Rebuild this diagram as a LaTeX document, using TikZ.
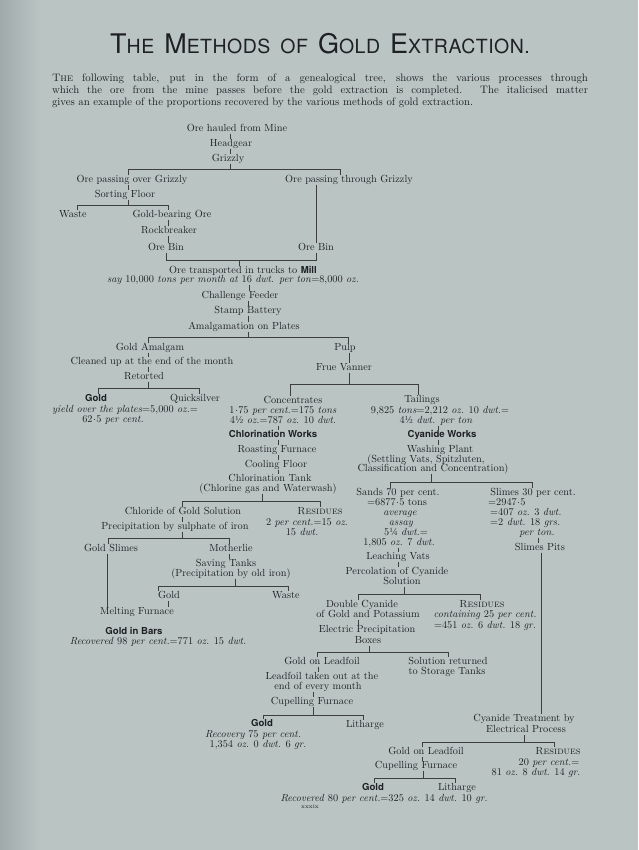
\documentclass[tikz,border=0pt]{standalone}
\usepackage{fontspec}
\setsansfont{TeX Gyre Heros}
\newfontfamily\titlefont[LetterSpace=2.5]{TeX Gyre Heros}
\definecolor{paper}{RGB}{186,196,195}
\definecolor{paperdark}{RGB}{160,170,170}
\definecolor{ink}{RGB}{30,32,36}
\definecolor{rule}{RGB}{60,62,64}
\newcommand\tcap[2]{{\fontsize{27}{27}\selectfont #1}{\fontsize{19.5}{19.5}\selectfont #2}}
\newcommand\cd{\kern0.4pt\raisebox{0.22em}{.}\kern0.4pt}
\begin{document}
\begin{tikzpicture}[x=1pt,y=-1pt,
 tx/.style={inner sep=0pt, text=ink, font=\fontsize{10.3}{10}\selectfont, text height=7pt, text depth=2pt},
 bsf/.style={tx, font=\sffamily\bfseries\fontsize{9.6}{10}\selectfont},
 ln/.style={draw=rule, line width=0.55pt}]
% page
\fill[paper] (0,0) rectangle (638,850);
\shade[left color=paperdark, right color=paper] (0,0) rectangle (40,850);
\useasboundingbox (0,0) rectangle (638,850);
% heading
\node[inner sep=0pt, text=ink, font=\titlefont] (title) at (320,44)
 {\tcap{T}{HE}\hspace{10pt}\tcap{M}{ETHODS}\hspace{10pt}{\fontsize{19.5}{19.5}\selectfont OF}\hspace{10pt}\tcap{G}{OLD}\hspace{10pt}\tcap{E}{XTRACTION.}};
\node[inner sep=0pt, text=ink, text width=536pt, align=justify, font=\fontsize{10.8}{12}\selectfont] (intro) at (320,91)
 {\textsc{The} following table, put in the form of a genealogical tree, shows the various processes through\linebreak
 which the ore from the mine passes before the gold extraction is completed. The italicised matter\linebreak
 gives an example of the proportions recovered by the various methods of gold extraction.};
% ---------------- nodes
\node[tx] (n1) at (237,129) {Ore hauled from Mine};
\node[tx] (n2) at (231,144) {Headgear};
\node[tx] (n3) at (228,159) {Grizzly};
\node[tx] (n4) at (132,180) {Ore passing over Grizzly};
\node[tx] (n5) at (349,180) {Ore passing through Grizzly};
\node[tx] (n6) at (125,195) {Sorting Floor};
\node[tx] (n7) at (73,215) {Waste};
\node[tx] (n8) at (172,215) {Gold-bearing Ore};
\node[tx] (n9) at (169,231) {Rockbreaker};
\node[tx] (n10) at (166,248) {Ore Bin};
\node[tx] (n11) at (316,248) {Ore Bin};
\node[tx] (n12) at (243,271) {Ore transported in trucks to {\sffamily\bfseries\fontsize{9.6}{10}\selectfont Mill}};
\node[tx] (n13) at (233,280) {\textit{say} 10,000 \textit{tons per month at} 16 \textit{dwt. per ton}=8,000 \textit{oz.}};
\node[tx] (n14) at (240,296) {Challenge Feeder};
\node[tx] (n15) at (248,311) {Stamp Battery};
\node[tx] (n16) at (244,327) {Amalgamation on Plates};
\node[tx] (n17) at (150,348) {Gold Amalgam};
\node[tx] (n18) at (345,348) {Pulp};
\node[tx] (n19) at (152,362) {Cleaned up at the end of the month};
\node[tx] (n20) at (144,377) {Retorted};
\node[bsf] (n21) at (96,399) {Gold};
\node[tx] (n22) at (195,399) {Quicksilver};
\node[tx] (n23) at (125,410) {\textit{yield over the plates}=5,000 \textit{oz.}=};
\node[tx] (n24) at (113,420) {62\cd5 \textit{per cent.}};
\node[tx] (n25) at (344,368) {Frue Vanner};
\node[tx] (n26) at (293,401) {Concentrates};
\node[tx] (n27) at (283,411) {1\cd75 \textit{per cent.}=175 \textit{tons}};
\node[tx] (n28) at (283,421) {4½ \textit{oz.}=787 \textit{oz.} 10 \textit{dwt.}};
\node[bsf] (n29) at (273,435) {Chlorination Works};
\node[tx] (n30) at (277,450) {Roasting Furnace};
\node[tx] (n31) at (276,465) {Cooling Floor};
\node[tx] (n32) at (270,479) {Chlorination Tank};
\node[tx] (n33) at (268,489) {(Chlorine gas and Waterwash)};
\node[tx] (n34) at (422,400) {Tailings};
\node[tx] (n35) at (440,411) {9,825 \textit{tons}=2,212 \textit{oz.} 10 \textit{dwt.}=};
\node[tx] (n36) at (436,421) {4½ \textit{dwt. per ton}};
\node[bsf] (n37) at (442,435) {Cyanide Works};
\node[tx] (n38) at (440,450) {Washing Plant};
\node[tx] (n39) at (426,460) {(Settling Vats, Spitzluten,};
\node[tx] (n40) at (433,469) {Classification and Concentration)};
\node[tx] (n41) at (183,512) {Chloride of Gold Solution};
\node[tx] (n42) at (320,512) {\textsc{Residues}};
\node[tx] (n43) at (307,523) {2 \textit{per cent.}=15 \textit{oz.}};
\node[tx] (n44) at (302,533) {15 \textit{dwt.}};
\node[tx] (n45) at (175,527) {Precipitation by sulphate of iron};
\node[tx] (n46) at (111,549) {Gold Slimes};
\node[tx] (n47) at (231,549) {Motherlie};
\node[tx] (n48) at (226,564) {Saving Tanks};
\node[tx] (n49) at (231,574) {(Precipitation by old iron)};
\node[tx] (n50) at (169,596) {Gold};
\node[tx] (n51) at (286,596) {Waste};
\node[tx] (n52) at (137,612) {Melting Furnace};
\node[bsf] (n53) at (134,632) {Gold in Bars};
\node[tx] (n54) at (158,642) {\textit{Recovered} 98 \textit{per cent.}=771 \textit{oz.} 15 \textit{dwt.}};
\node[tx] (n55) at (398,493) {Sands 70 per cent.};
\node[tx] (n56) at (397,503) {=6877\cd5 tons};
\node[tx] (n57) at (400,513) {\textit{average}};
\node[tx] (n58) at (401,523) {\textit{assay}};
\node[tx] (n59) at (406,533) {5¼ \textit{dwt.}=};
\node[tx] (n60) at (399,543) {1,805 \textit{oz.} 7 \textit{dwt.}};
\node[tx] (n61) at (398,557) {Leaching Vats};
\node[tx] (n62) at (397,572) {Percolation of Cyanide};
\node[tx] (n63) at (402,582) {Solution};
\node[tx] (n64) at (533,493) {Slimes 30 per cent.};
\node[tx, anchor=west] (n65) at (488,503) {=2947\cd5};
\node[tx, anchor=west] (n66) at (490,513) {=407 \textit{oz.} 3 \textit{dwt.}};
\node[tx, anchor=west] (n67) at (490,523) {=2 \textit{dwt.} 18 \textit{grs.}};
\node[tx] (n68) at (537,533) {\textit{per ton.}};
\node[tx] (n69) at (540,548) {Slimes Pits};
\node[tx] (n70) at (362,605) {Double Cyanide};
\node[tx] (n71) at (368,615) {of Gold and Potassium};
\node[tx] (n72) at (367,630) {Electric Precipitation};
\node[tx] (n73) at (368,641) {Boxes};
\node[tx] (n74) at (482,605) {\textsc{Residues}};
\node[tx] (n75) at (485,615) {\textit{containing} 25 \textit{per cent.}};
\node[tx] (n76) at (485,626) {=451 \textit{oz.} 6 \textit{dwt.} 18 \textit{gr.}};
\node[tx] (n77) at (322,662) {Gold on Leadfoil};
\node[tx] (n78) at (448,662) {Solution returned};
\node[tx] (n79) at (447,672) {to Storage Tanks};
\node[tx] (n80) at (322,677) {Leadfoil taken out at the};
\node[tx] (n81) at (318,687) {end of every month};
\node[tx] (n82) at (312,702) {Cupelling Furnace};
\node[bsf] (n83) at (262,724) {Gold};
\node[tx] (n84) at (253,735) {\textit{Recovery} 75 \textit{per cent.}};
\node[tx] (n85) at (258,745) {1,354 \textit{oz.} 0 \textit{dwt.} 6 \textit{gr.}};
\node[tx] (n86) at (365,725) {Litharge};
\node[tx] (n87) at (524,719) {Cyanide Treatment by};
\node[tx] (n88) at (526,730) {Electrical Process};
\node[tx] (n89) at (426,752) {Gold on Leadfoil};
\node[tx] (n90) at (558,752) {\textsc{Residues}};
\node[tx] (n91) at (549,763) {20 \textit{per cent.}=};
\node[tx] (n92) at (536,773) {81 \textit{oz.} 8 \textit{dwt.} 14 \textit{gr.}};
\node[tx] (n93) at (416,766) {Cupelling Furnace};
\node[bsf] (n94) at (373,788) {Gold};
\node[tx] (n95) at (457,788) {Litharge};
\node[tx] (n96) at (384,799) {\textit{Recovered} 80 \textit{per cent.}=325 \textit{oz.} 14 \textit{dwt.} 10 \textit{gr.}};
\node[inner sep=0pt, text=ink, font=\fontsize{6}{6}\selectfont] (pg) at (310,807) {xxxix};
% ---------------- bar coordinates
\coordinate (b1l) at (128,169); \coordinate (b1r) at (340,169); \coordinate (b1m) at (230,169);
\coordinate (b2l) at (77,205);  \coordinate (b2r) at (168,205); \coordinate (b2m) at (128,205);
\coordinate (b3l) at (166,260); \coordinate (b3r) at (316,260); \coordinate (b3m) at (239,260);
\coordinate (b4l) at (148,337); \coordinate (b4r) at (348,337); \coordinate (b4m) at (248,337);
\coordinate (b5l) at (98,388);  \coordinate (b5r) at (199,388); \coordinate (b5m) at (148,388);
\coordinate (b6l) at (290,384); \coordinate (b6r) at (418,384); \coordinate (b6m) at (349,384);
\coordinate (b7l) at (182,501); \coordinate (b7r) at (320,501); \coordinate (b7m) at (262,501);
\coordinate (b8l) at (390,482); \coordinate (b8r) at (532,482); \coordinate (b8m) at (431,482);
\coordinate (b9l) at (108,538); \coordinate (b9r) at (229,538); \coordinate (b9m) at (182,538);
\coordinate (b10l) at (158,586); \coordinate (b10r) at (288,586); \coordinate (b10m) at (235,586);
\coordinate (b11l) at (358,594); \coordinate (b11r) at (480,594); \coordinate (b11m) at (404,594);
\coordinate (b12l) at (317,652); \coordinate (b12r) at (448,652); \coordinate (b12m) at (369,652);
\coordinate (b13l) at (263,715); \coordinate (b13r) at (363,715); \coordinate (b13m) at (313,715);
\coordinate (b14l) at (422,742); \coordinate (b14r) at (554,742); \coordinate (b14m) at (524,742);
\coordinate (b15l) at (374,778); \coordinate (b15r) at (455,778); \coordinate (b15m) at (423,778);
% ---------------- forks
\draw[ln] (n3.south -| b1m) -- (b1m);
\draw[ln] (n4.north -| b1l) -- (b1l) -- (b1r) -- (n5.north -| b1r);
\draw[ln] (n6.south -| b2m) -- (b2m);
\draw[ln] (n7.north -| b2l) -- (b2l) -- (b2r) -- (n8.north -| b2r);
\draw[ln] (n10.south -| b3l) -- (b3l) -- (b3r) -- (n11.south -| b3r);
\draw[ln] (b3m) -- (n12.north -| b3m);
\draw[ln] (n16.south -| b4m) -- (b4m);
\draw[ln] (n17.north -| b4l) -- (b4l) -- (b4r) -- (n18.north -| b4r);
\draw[ln] (n20.south -| b5m) -- (b5m);
\draw[ln] (n21.north -| b5l) -- (b5l) -- (b5r) -- (n22.north -| b5r);
\draw[ln] (n25.south -| b6m) -- (b6m);
\draw[ln] (n26.north -| b6l) -- (b6l) -- (b6r) -- (n34.north -| b6r);
\draw[ln] (n33.south -| b7m) -- (b7m);
\draw[ln] (n41.north -| b7l) -- (b7l) -- (b7r) -- (n42.north -| b7r);
\draw[ln] (n40.south -| b8m) -- (b8m);
\draw[ln] (n55.north -| b8l) -- (b8l) -- (b8r) -- (n64.north -| b8r);
\draw[ln] (n45.south -| b9m) -- (b9m);
\draw[ln] (n46.north -| b9l) -- (b9l) -- (b9r) -- (n47.north -| b9r);
\draw[ln] (n49.south -| b10m) -- (b10m);
\draw[ln] (n50.north -| b10l) -- (b10l) -- (b10r) -- (n51.north -| b10r);
\draw[ln] (n63.south -| b11m) -- (b11m);
\draw[ln] (n70.north -| b11l) -- (b11l) -- (b11r) -- (n74.north -| b11r);
\draw[ln] (n73.south -| b12m) -- (b12m);
\draw[ln] (n77.north -| b12l) -- (b12l) -- (b12r) -- (n78.north -| b12r);
\draw[ln] (n82.south -| b13m) -- (b13m);
\draw[ln] (n83.north -| b13l) -- (b13l) -- (b13r) -- (n86.north -| b13r);
\draw[ln] (n88.south -| b14m) -- (b14m);
\draw[ln] (n89.north -| b14l) -- (b14l) -- (b14r) -- (n90.north -| b14r);
\draw[ln] (n93.south -| b15m) -- (b15m);
\draw[ln] (n94.north -| b15l) -- (b15l) -- (b15r) -- (n95.north -| b15r);
% ---------------- straight links
\draw[ln] (n1.south -| 230,0) -- (n2.north -| 230,0);
\draw[ln] (n2.south -| 230,0) -- (n3.north -| 230,0);
\draw[ln] (n4.south -| 128,0) -- (n6.north -| 128,0);
\draw[ln] (n8.south -| 168,0) -- (n9.north -| 168,0);
\draw[ln] (n9.south -| 168,0) -- (n10.north -| 168,0);
\draw[ln] (n5.south -| 316,0) -- (n11.north -| 316,0);
\draw[ln] (n13.south -| 249,0) -- (n14.north -| 249,0);
\draw[ln] (n14.south -| 248,0) -- (n15.north -| 248,0);
\draw[ln] (n15.south -| 248,0) -- (n16.north -| 248,0);
\draw[ln] (n17.south -| 148,0) -- (n19.north -| 148,0);
\draw[ln] (n19.south -| 148,0) -- (n20.north -| 148,0);
\draw[ln] (n18.south -| 349,0) -- (n25.north -| 349,0);
\draw[ln] (n28.south -| 278,0) -- (n29.north -| 278,0);
\draw[ln] (n29.south -| 278,0) -- (n30.north -| 278,0);
\draw[ln] (n30.south -| 278,0) -- (n31.north -| 278,0);
\draw[ln] (n31.south -| 278,0) -- (n32.north -| 278,0);
\draw[ln] (n36.south -| 438,0) -- (n37.north -| 438,0);
\draw[ln] (n37.south -| 438,0) -- (n38.north -| 438,0);
\draw[ln] (n41.south -| 182,0) -- (n45.north -| 182,0);
\draw[ln] (n47.south -| 229,0) -- (n48.north -| 229,0);
\draw[ln] (n46.south -| 107,0) -- (n52.north -| 107,0);
\draw[ln] (n50.south -| 168,0) -- (n52.north -| 168,0);
\draw[ln] (n60.south -| 398,0) -- (n61.north -| 398,0);
\draw[ln] (n61.south -| 398,0) -- (n62.north -| 398,0);
\draw[ln] (n68.south -| 538,0) -- (n69.north -| 538,0);
\draw[ln] (n69.south -| 541,0) -- (n87.north -| 541,0);
\draw[ln] (n71.south -| 358,0) -- (n72.north -| 358,0);
\draw[ln] (n77.south -| 318,0) -- (n80.north -| 318,0);
\draw[ln] (n81.south -| 313,0) -- (n82.north -| 313,0);
\draw[ln] (n89.south -| 422,0) -- (n93.north -| 422,0);
\end{tikzpicture}
\end{document}
